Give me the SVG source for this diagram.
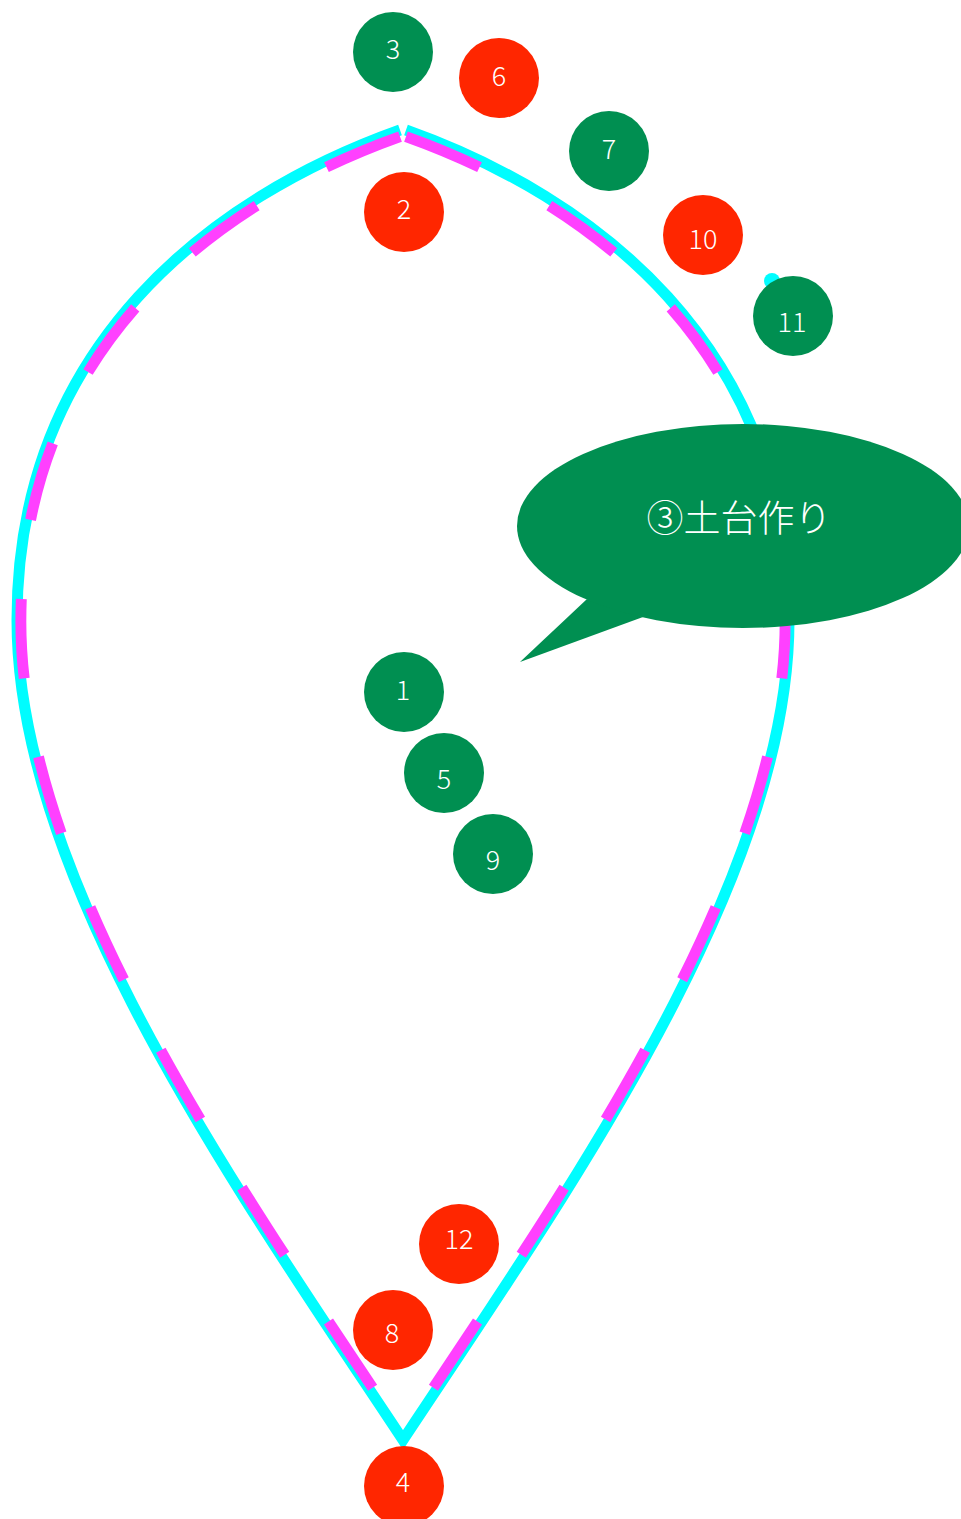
<svg xmlns="http://www.w3.org/2000/svg" width="961" height="1519" viewBox="0 0 961 1519">
<style>
.g{fill:#008F51}
.r{fill:#FF2600}
.lbl{fill:#ffffff;font-family:"Noto Sans CJK JP","Noto Sans",sans-serif;font-weight:300;font-size:27px;text-anchor:middle;dominant-baseline:central}
.cy{fill:none;stroke:#00FDFF;stroke-width:11;stroke-linejoin:miter}
.mg{fill:none;stroke:#FF40FF;stroke-width:11;stroke-dasharray:80.5 80.5}
</style>
<rect width="961" height="1519" fill="#ffffff"/>
<g id="connectors">
<path class="cy" d="M406,130 C594,197 789,345 789,620 C789,880 568,1191 403,1440 C238,1191 17,880 17,620 C17,345 212,197 400,130"/>
<g transform="translate(403,785) scale(0.99) translate(-403,-785)">
<path class="mg" d="M406,130 C594,197 789,345 789,620 C789,880 568,1191 403,1440"/>
<path class="mg" d="M400,130 C212,197 17,345 17,620 C17,880 238,1191 403,1440"/>
</g>
<circle cx="772" cy="281" r="8" fill="#00FDFF"/>
</g>
<g id="n3"><circle class="g" cx="393" cy="52" r="40"/><text class="lbl" x="393" y="47">3</text></g>
<g id="n6"><circle class="r" cx="499" cy="78" r="40"/><text class="lbl" x="499" y="74">6</text></g>
<g id="n7"><circle class="g" cx="609" cy="151" r="40"/><text class="lbl" x="609" y="147">7</text></g>
<g id="n2"><circle class="r" cx="404" cy="212" r="40"/><text class="lbl" x="404" y="207">2</text></g>
<g id="n10"><circle class="r" cx="703" cy="235" r="40"/><text class="lbl" x="703" y="237">10</text></g>
<g id="n11"><circle class="g" cx="793" cy="316" r="40"/><text class="lbl" x="792" y="320">11</text></g>
<g id="n1"><circle class="g" cx="404" cy="692" r="40"/><text class="lbl" x="403" y="688">1</text></g>
<g id="n5"><circle class="g" cx="444" cy="773" r="40"/><text class="lbl" x="444" y="777">5</text></g>
<g id="n9"><circle class="g" cx="493" cy="854" r="40"/><text class="lbl" x="493" y="858">9</text></g>
<g id="n12"><circle class="r" cx="459" cy="1244" r="40"/><text class="lbl" x="459" y="1237">12</text></g>
<g id="n8"><circle class="r" cx="393" cy="1330" r="40"/><text class="lbl" x="392" y="1331">8</text></g>
<g id="n4"><circle class="r" cx="404" cy="1486" r="40"/><text class="lbl" x="403" y="1480">4</text></g>
<g id="bubble">
<path class="g" d="M587,599 L520,662 L643,617 Z"/>
<ellipse class="g" cx="743" cy="526" rx="226" ry="102"/>
<text x="739" y="516" fill="#ffffff" font-family="'Noto Sans CJK JP',sans-serif" font-weight="300" font-size="37" text-anchor="middle" dominant-baseline="central">③土台作り</text>
</g>
</svg>
